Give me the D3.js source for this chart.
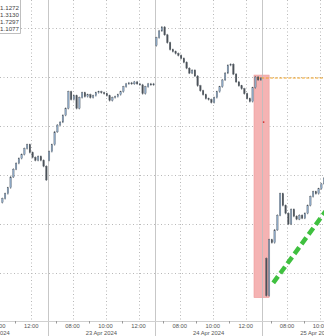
<!DOCTYPE html>
<html><head><meta charset="utf-8">
<script src="https://cdn.jsdelivr.net/npm/d3@7"></script>
<style>html,body{margin:0;padding:0;background:#fff;overflow:hidden}svg{display:block}</style>
</head><body><svg id="c" width="324" height="336"></svg>
<script>
// ---- data ----
const dayLabels = ["22 Apr 2024", "23 Apr 2024", "24 Apr 2024", "25 Apr 2024"];
const sessionHours = [6.5, 13];            // session 06:30 - 13:00
const majorHours = [8, 10, 12];
const minorHours = [7, 9, 11];
const yTicks = [1000, 950, 900, 850, 800, 750];
const legendValues = ["1.1272", "1.3130", "1.7297", "1.1077"];
// 10-minute candles: first open, first slot index, closes
const opens = [822, 865, 982, 765];
const startSlots = [22, 0, 0, 1];
const apr22 = [826,831,837,848,856,862,867,871,877,881,873,868,865,869,865,859,845];
const apr23 = [874,881,894,901,904,911,918,935,927,931,918,929,934,930,932,929,931,934,935,934,933,931,926,929,930,932,935,940,943,944,943,945,943,942,933,940,943,942,943];
const apr24 = [990,997,1001,993,985,978,976,974,972,969,965,959,954,957,951,941,936,932,928,927,924,929,935,940,947,954,962,963,953,945,941,938,933,928,925,939,950,947,949];
const apr25 = [727,784,781,794,809,831,819,811,800,815,808,805,809,806,811,819,828,833,831,836,841,847];
const closesByDay = [apr22, apr23, apr24, apr25];
// annotations
const highlight = {day0: 2, hour0: 12.5, day1: 3, hour1: 6 + 55/60, hi: 952, lo: 725};
const refLine = {day: 2, hour: 12 + 40/60, value: 949};
const trendPts = [{day: 3, hour: 7 + 10/60, value: 740}, {day: 3, hour: 10 + 20/60, value: 813}];
const redTick = {day: 3, hour: 6 + 35/60, value: 904};

// ---- scales ----
const W = 324, H = 336;
const span = sessionHours[1] - sessionHours[0];
const tIdx = (d, h) => d * span + (h - sessionHours[0]);
const x = d3.scaleLinear().domain([0, 26]).range([-59.5, 369.5]);
const y = d3.scaleLinear().domain([1000, 750]).range([28, 28 + 250 / 1.02]);
const axisY = 321;

const svg = d3.select("#c");
const font = "'Liberation Sans', Arial, sans-serif";

// horizontal dotted grid
svg.append("g").selectAll("line").data(yTicks).join("line")
  .attr("x1", 0).attr("x2", W).attr("y1", d => Math.round(y(d)) + 0.5).attr("y2", d => Math.round(y(d)) + 0.5)
  .attr("stroke", "#b8b8b8").attr("stroke-width", 1).attr("stroke-dasharray", "1,2.5");

// vertical dotted grid at major hours
const majors = [];
dayLabels.forEach((lab, d) => majorHours.forEach(h => majors.push({d, h})));
svg.append("g").selectAll("line").data(majors).join("line")
  .attr("x1", m => Math.round(x(tIdx(m.d, m.h))) + 0.5).attr("x2", m => Math.round(x(tIdx(m.d, m.h))) + 0.5)
  .attr("y1", 0).attr("y2", axisY)
  .attr("stroke", "#b8b8b8").attr("stroke-width", 1).attr("stroke-dasharray", "1,2.5");

// highlight box
const hx0 = x(tIdx(highlight.day0, highlight.hour0)), hx1 = x(tIdx(highlight.day1, highlight.hour1));
svg.append("rect").attr("x", hx0).attr("y", y(highlight.hi)).attr("width", hx1 - hx0)
  .attr("height", y(highlight.lo) - y(highlight.hi))
  .attr("fill", "#f5b3b3").attr("stroke", "#ee9a9a").attr("stroke-width", 0.6);

// day separators
svg.append("g").selectAll("line").data(d3.range(1, dayLabels.length)).join("line")
  .attr("x1", d => Math.round(x(tIdx(d, sessionHours[0]))) + 0.5).attr("x2", d => Math.round(x(tIdx(d, sessionHours[0]))) + 0.5)
  .attr("y1", 0).attr("y2", H)
  .attr("stroke", "#bdbdbd").attr("stroke-opacity", 0.85).attr("stroke-width", 1);

// axis line + minor ticks
svg.append("line").attr("x1", 0).attr("x2", W).attr("y1", axisY + 0.5).attr("y2", axisY + 0.5)
  .attr("stroke", "#d0d0d0");
const minors = [];
dayLabels.forEach((lab, d) => minorHours.forEach(h => minors.push({d, h})));
svg.append("g").selectAll("line").data(minors).join("line")
  .attr("x1", m => Math.round(x(tIdx(m.d, m.h))) + 0.5).attr("x2", m => Math.round(x(tIdx(m.d, m.h))) + 0.5)
  .attr("y1", axisY).attr("y2", axisY + 2.5).attr("stroke", "#999");

// tick labels
svg.append("g").selectAll("text").data(majors).join("text")
  .attr("x", m => x(tIdx(m.d, m.h))).attr("y", 327.5)
  .attr("text-anchor", "middle").attr("font-family", font).attr("font-size", 5.8).attr("fill", "#555")
  .text(m => String(m.h).padStart(2, "0") + ":00");
svg.append("g").selectAll("text").data(dayLabels).join("text")
  .attr("x", (lab, d) => x(tIdx(d, (sessionHours[0] + sessionHours[1]) / 2))).attr("y", 335)
  .attr("text-anchor", "middle").attr("font-family", font).attr("font-size", 5.8).attr("fill", "#555")
  .text(lab => lab);

// orange reference line
svg.append("line").attr("x1", x(tIdx(refLine.day, refLine.hour))).attr("x2", W)
  .attr("y1", y(refLine.value)).attr("y2", y(refLine.value))
  .attr("stroke", "#f0a020").attr("stroke-width", 1.2).attr("stroke-dasharray", "3,1.5");

// candles
const candles = [];
closesByDay.forEach((arr, d) => {
  let prev = opens[d];
  arr.forEach((c, k) => {
    const slot = startSlots[d] + k;
    const hour = sessionHours[0] + slot / 6 + 1 / 12;
    candles.push({d, hour, open: prev, close: c});
    prev = c;
  });
});
const cg = svg.append("g");
cg.selectAll("line").data(candles).join("line")
  .attr("x1", c => x(tIdx(c.d, c.hour))).attr("x2", c => x(tIdx(c.d, c.hour)))
  .attr("y1", c => y(Math.max(c.open, c.close)) - 1).attr("y2", c => y(Math.min(c.open, c.close)) + 1)
  .attr("stroke", "#5a6168").attr("stroke-width", 0.7);
cg.selectAll("rect").data(candles).join("rect")
  .attr("x", c => x(tIdx(c.d, c.hour)) - 0.75).attr("width", 1.5)
  .attr("y", c => y(Math.max(c.open, c.close)))
  .attr("height", c => Math.max(1, Math.abs(y(c.open) - y(c.close))))
  .attr("fill", c => c.close >= c.open ? "#8ea9c7" : "#4a5159")
  .attr("stroke", "#4c535a").attr("stroke-width", 0.3);

// red tick
svg.append("circle").attr("cx", x(tIdx(redTick.day, redTick.hour))).attr("cy", y(redTick.value))
  .attr("r", 0.9).attr("fill", "#d23030");

// green dashed trend line
svg.append("line")
  .attr("x1", x(tIdx(trendPts[0].day, trendPts[0].hour))).attr("y1", y(trendPts[0].value))
  .attr("x2", x(tIdx(trendPts[1].day, trendPts[1].hour))).attr("y2", y(trendPts[1].value))
  .attr("stroke", "#3fc03f").attr("stroke-width", 4.5).attr("stroke-dasharray", "8,4");

// legend box (cropped)
const lg = svg.append("g");
lg.append("rect").attr("x", -30).attr("y", -1).attr("width", 50.5).attr("height", 34.5)
  .attr("fill", "#fff").attr("stroke", "#b0b0b0").attr("stroke-width", 0.8);
lg.selectAll("text").data(legendValues).join("text")
  .attr("x", 19).attr("y", (v, i) => 10.3 + i * 7)
  .attr("text-anchor", "end").attr("font-family", font).attr("font-size", 6.2).attr("fill", "#444")
  .text(v => v);
</script></body></html>
